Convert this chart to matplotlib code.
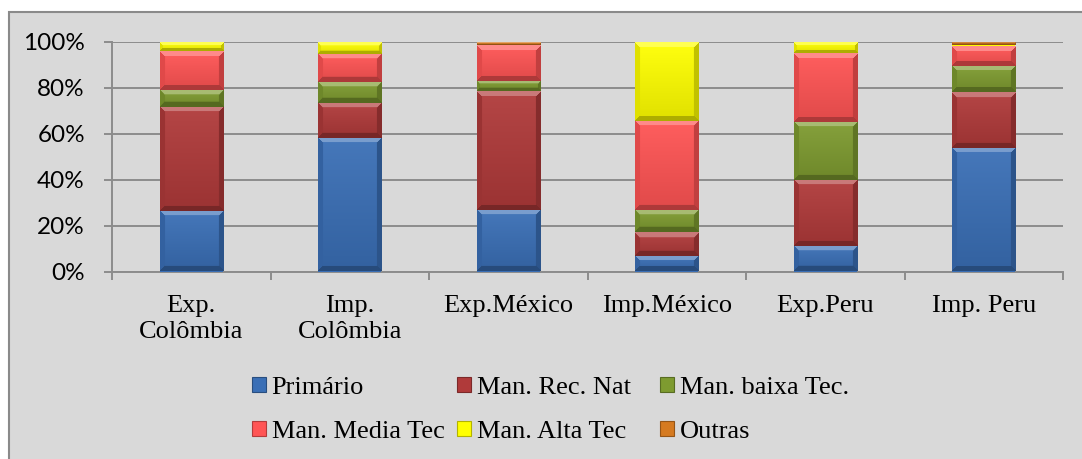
import matplotlib
matplotlib.use('Agg')
import matplotlib.pyplot as plt
from matplotlib.patches import Rectangle, Patch
from matplotlib.ticker import PercentFormatter, FixedLocator
import numpy as np

categories = ['Exp.\nColômbia', 'Imp.\nColômbia', 'Exp.México', 'Imp.México', 'Exp.Peru', 'Imp. Peru']
series_names = ['Primário', 'Man. Rec. Nat', 'Man. baixa Tec.', 'Man. Media Tec', 'Man. Alta Tec', 'Outras']
primario = [26.2, 58.0, 26.7, 6.8, 11.0, 54.0]
rec_nat = [45.5, 15.3, 51.8, 10.2, 28.9, 24.0]
baixa_tec = [7.6, 9.2, 4.4, 9.6, 25.3, 11.7]
media_tec = [16.9, 12.4, 15.6, 38.8, 30.0, 8.7]
alta_tec = [3.8, 4.9, 0.3, 34.4, 4.6, 0.2]
outras = [0.0, 0.2, 1.2, 0.2, 0.2, 1.4]
colors = ['#3a6fb6', '#b03a3a', '#7e9b30', '#ff5454', '#ffff00', '#d57a20']

series = [primario, rec_nat, baixa_tec, media_tec, alta_tec, outras]

W, H = 1082, 459
fig = plt.figure(figsize=(W / 100, H / 100), dpi=100)
fig.patch.set_facecolor('white')
# grey chart area with a thin border
fig.patches.append(Rectangle((9 / W, -0.05), 1.1, (H - 12) / H + 0.05,
                             transform=fig.transFigure, facecolor='#d9d9d9',
                             edgecolor='#8a8a8a', lw=1.5, zorder=-10))

ax = fig.add_axes([112 / W, 1 - 271.5 / H, (1063 - 112) / W, (271.5 - 42) / H])
ax.set_facecolor('none')
x = np.arange(len(categories))
ax.set_xlim(-0.5, len(categories) - 0.5)
ax.set_ylim(0, 100)

grid_c = '#8c8c8c'
ax.set_axisbelow(True)
ax.yaxis.grid(True, color=grid_c, lw=1.4)
for s in ['top', 'right']:
    ax.spines[s].set_visible(False)
for s in ['left', 'bottom']:
    ax.spines[s].set_color(grid_c)
    ax.spines[s].set_linewidth(1.4)

ax.set_yticks([0, 20, 40, 60, 80, 100])
ax.yaxis.set_major_formatter(PercentFormatter(decimals=0))
ax.tick_params(axis='y', length=6, width=1.4, color=grid_c, pad=13.5,
               labelsize=17.5, labelcolor='black')
for lab in ax.get_yticklabels():
    lab.set_family('Lato')

ax.set_xticks(x)
ax.set_xticklabels(categories, fontsize=19, family='Liberation Serif')
ax.tick_params(axis='x', which='major', length=0, pad=17)
ax.xaxis.set_minor_locator(FixedLocator(np.arange(-0.5, len(categories), 1.0)))
ax.tick_params(axis='x', which='minor', length=6, width=1.4, color=grid_c)


def mix(c, t, amount):
    return c + (t - c) * amount


def bevel(rect, color):
    """Fill a bar segment with a bevelled, Excel-like shading."""
    bb = rect.get_window_extent()
    pw, ph = int(round(bb.width)), int(round(bb.height))
    if ph < 2 or pw < 2:
        return
    base = np.array(matplotlib.colors.to_rgb(color))
    b = max(1, min(5, ph // 3))
    i, j = np.mgrid[0:ph, 0:pw]
    dt, db, dl, dr = i, ph - 1 - i, j, pw - 1 - j
    d = np.stack([dt, db, dl, dr])
    m = d.min(axis=0)
    side = d.argmin(axis=0)
    img = np.empty((ph, pw, 3))
    white = np.ones(3)
    t = (i / max(ph - 1, 1))[..., None]
    body = mix(base, white, 0.06 * (1 - t)) * (1 - 0.12 * t)
    img[:] = body
    edge = m < b
    for k, fn in enumerate([lambda c: mix(c, white, 0.32),
                            lambda c: c * 0.68,
                            lambda c: c * 0.88,
                            lambda c: c * 0.76]):
        sel = edge & (side == k)
        img[sel] = fn(base)
    x0, y0 = rect.get_x(), rect.get_y()
    im = ax.imshow(np.clip(img, 0, 1), extent=(x0, x0 + rect.get_width(), y0, y0 + rect.get_height()),
                   origin='upper', aspect='auto', interpolation='bilinear', zorder=3.1)
    im.set_clip_path(rect)


bottom = np.zeros(len(categories))
for name, vals, c in zip(series_names, series, colors):
    bars = ax.bar(x, vals, 0.4, bottom=bottom, color=c, label=name, zorder=3)
    for r in bars:
        bevel(r, c)
    bottom += np.array(vals)

ax.set_xlim(-0.5, len(categories) - 0.5)
ax.set_ylim(0, 100)

# legend laid out as three equal-width columns
handles = [Patch(facecolor=c, edgecolor=tuple(np.array(matplotlib.colors.to_rgb(c)) * 0.7), lw=0.8)
           for c in colors]
col_x = [252, 457, 660]
for k in range(3):
    idx = [k, k + 3]
    fig.legend([handles[n] for n in idx], [series_names[n] for n in idx],
               loc='upper left', bbox_to_anchor=(col_x[k] / W, 1 - 377 / H),
               frameon=False, borderpad=0, borderaxespad=0,
               prop={'family': 'Liberation Serif', 'size': 19},
               handlelength=0.54, handleheight=0.5, handletextpad=0.2,
               labelspacing=0.82)

fig.savefig('out.png', dpi=100, facecolor=fig.get_facecolor())
